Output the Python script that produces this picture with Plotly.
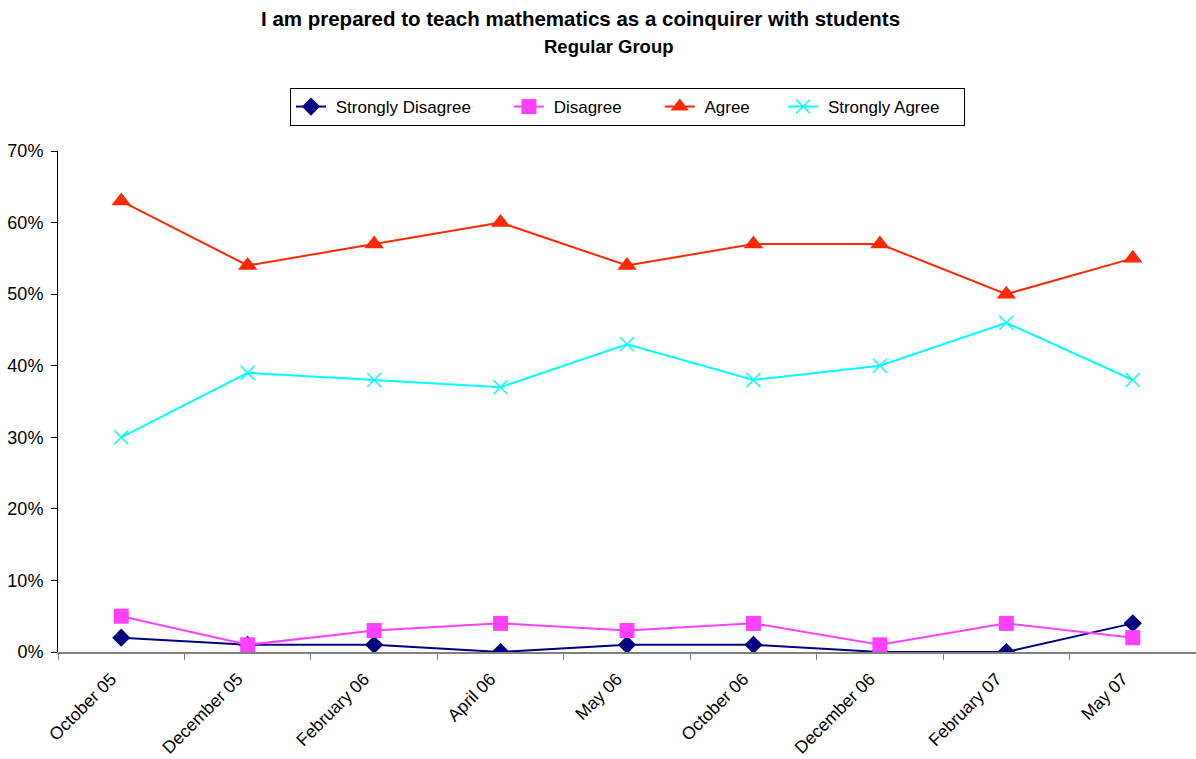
import plotly.graph_objects as go

categories = ["October 05", "December 05", "February 06", "April 06", "May 06",
              "October 06", "December 06", "February 07", "May 07"]
strongly_disagree = [0.02, 0.01, 0.01, 0.00, 0.01, 0.01, 0.00, 0.00, 0.04]
disagree = [0.05, 0.01, 0.03, 0.04, 0.03, 0.04, 0.01, 0.04, 0.02]
agree = [0.63, 0.54, 0.57, 0.60, 0.54, 0.57, 0.57, 0.50, 0.55]
strongly_agree = [0.30, 0.39, 0.38, 0.37, 0.43, 0.38, 0.40, 0.46, 0.38]
y_ticks = [0, 0.1, 0.2, 0.3, 0.4, 0.5, 0.6, 0.7]

FONT = "Liberation Sans, Arial, sans-serif"
NB = "\u00a0"

fig = go.Figure()
fig.add_trace(go.Scatter(x=categories, y=strongly_disagree, name=NB + "Strongly Disagree" + NB * 7,
                         mode="lines+markers", line=dict(color="#000080", width=2),
                         marker=dict(symbol="diamond", size=14, color="#000080")))
fig.add_trace(go.Scatter(x=categories, y=disagree, name=NB + "Disagree" + NB * 7,
                         mode="lines+markers", line=dict(color="#FF40FF", width=2),
                         marker=dict(symbol="square", size=15, color="#FF40FF")))
fig.add_trace(go.Scatter(x=categories, y=agree, name=NB + "Agree" + NB * 6,
                         mode="lines+markers", line=dict(color="#FF2800", width=2),
                         marker=dict(symbol="triangle-up", size=17, color="#FF2800")))
fig.add_trace(go.Scatter(x=categories, y=strongly_agree, name=NB + "Strongly Agree" + NB * 4,
                         mode="lines+markers", line=dict(color="#00FFFF", width=2),
                         marker=dict(symbol="x-thin", size=14, color="#00FFFF",
                                     line=dict(color="#00FFFF", width=1.5))))

W, H = 1196, 759
L, R, T, B = 58, 0, 151, 107
pw, ph = W - L - R, H - T - B


def px_x(x):
    return (x - L) / pw


def px_y(y):
    return (H - B - y) / ph


fig.add_annotation(text="<b>I am prepared to teach mathematics as a coinquirer with students</b>",
                   xref="paper", yref="paper", x=px_x(580), y=px_y(18),
                   xanchor="center", yanchor="middle", showarrow=False,
                   font=dict(family=FONT, size=20.5, color="black"))
fig.add_annotation(text="<b>Regular Group</b>",
                   xref="paper", yref="paper", x=px_x(609), y=px_y(46),
                   xanchor="center", yanchor="middle", showarrow=False,
                   font=dict(family=FONT, size=18.5, color="black"))

fig.update_layout(
    width=W, height=H,
    margin=dict(l=L, r=R, t=T, b=B, autoexpand=False),
    paper_bgcolor="white", plot_bgcolor="white",
    font=dict(family=FONT, size=17, color="black"),
    legend=dict(orientation="h", xref="container", yref="container",
                x=290 / W, xanchor="left", y=1 - 88 / H, yanchor="top",
                bordercolor="black", borderwidth=1, bgcolor="white",
                font=dict(family=FONT, size=17), tracegroupgap=0),
    xaxis=dict(type="category", range=[-0.5, 8.5], showline=True, linecolor="#808080",
               linewidth=2, ticks="outside", tickson="boundaries", ticklen=6,
               tickcolor="#808080", tickangle=-45, showgrid=False, zeroline=False,
               automargin=False, ticklabelshift=-10, ticklabelstandoff=8,
               tickfont=dict(family=FONT, size=17.5)),
    yaxis=dict(range=[0, 0.7], tickvals=y_ticks, tickformat=".0%", showline=True,
               linecolor="black", linewidth=1, ticks="outside", ticklen=6,
               tickcolor="black", showgrid=False, zeroline=False, automargin=False,
               ticklabelstandoff=4, tickfont=dict(family=FONT, size=18)),
)

fig.write_html("out.html", config={"displayModeBar": False},
               post_script="document.body.style.margin='0';")
